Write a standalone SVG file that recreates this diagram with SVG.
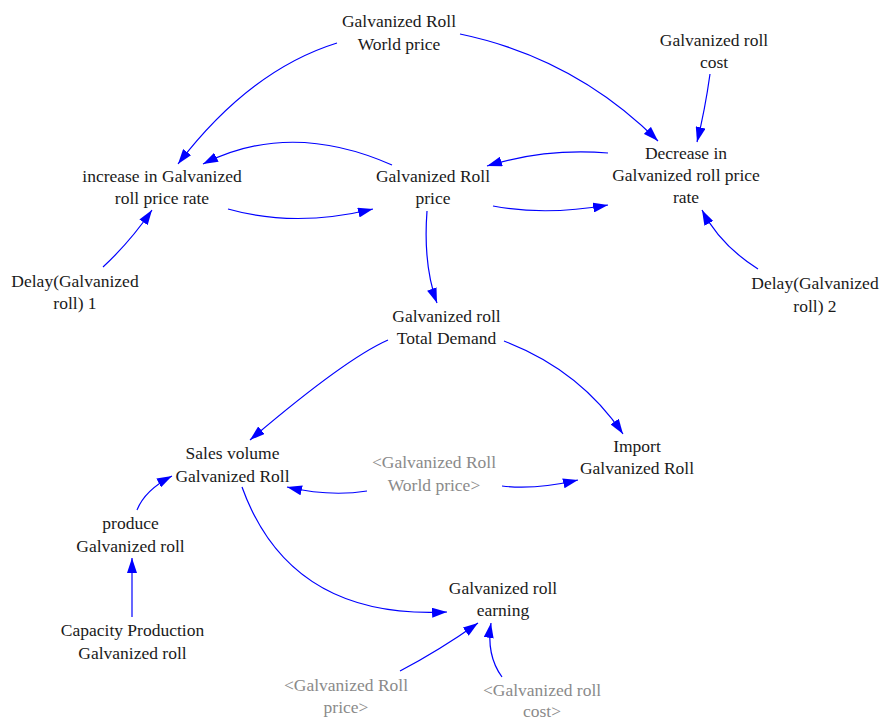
<svg xmlns="http://www.w3.org/2000/svg" width="880" height="719" viewBox="0 0 880 719">
<defs>
<style>
text{font-family:"Liberation Serif","Times New Roman",serif;font-size:17.5px;fill:#1a1a1a;text-anchor:middle}
text.sh{fill:#8a8a8a}
.c path{fill:none;stroke:#0000ff;stroke-width:1.2;marker-end:url(#ah)}
</style>
<marker id="ah" markerUnits="userSpaceOnUse" markerWidth="15" markerHeight="10" refX="15" refY="5" orient="auto" viewBox="0 0 15 10"><path d="M0,0 L15,5 L0,10 z" fill="#0000ff"/></marker>
</defs>
<rect width="880" height="719" fill="#ffffff"/>
<g class="c" id="connectors">
<path d="M337,43 Q250,70 178,164"/>
<path d="M392,165 Q290,120 203,164"/>
<path d="M228,209 Q295,228 373,209"/>
<path d="M103,267 Q130,242 152,210"/>
<path d="M460,34 Q575,58 658,141"/>
<path d="M710,74 Q705,110 697,142"/>
<path d="M608,153 Q545,148 487,166"/>
<path d="M493,206 Q545,216 608,205"/>
<path d="M758,269 Q720,245 702,210"/>
<path d="M427,211 Q423,265 437,303"/>
<path d="M388,340 Q345,359 250,440"/>
<path d="M504,341 Q580,370 623,434"/>
<path d="M367,491 Q330,497 287,487"/>
<path d="M502,486 Q535,490 578,480"/>
<path d="M137,510 Q145,490 172,476"/>
<path d="M132,617 L132,558"/>
<path d="M242,487 Q290,620 447,612"/>
<path d="M400,671 Q440,650 478,623"/>
<path d="M502,677 Q486,655 491,623"/>
</g>
<g id="world_price"><text x="399" y="27"><tspan x="399">Galvanized Roll</tspan><tspan x="399" dy="22.5">World price</tspan></text></g>
<g id="roll_cost"><text x="714" y="45.5"><tspan x="714">Galvanized roll</tspan><tspan x="714" dy="22.5">cost</tspan></text></g>
<g id="increase_rate"><text x="162" y="181.5"><tspan x="162">increase in Galvanized</tspan><tspan x="162" dy="22.5">roll price rate</tspan></text></g>
<g id="roll_price"><text x="433" y="181.5"><tspan x="433">Galvanized Roll</tspan><tspan x="433" dy="22.5">price</tspan></text></g>
<g id="decrease_rate"><text x="686" y="159"><tspan x="686">Decrease in</tspan><tspan x="686" dy="22">Galvanized roll price</tspan><tspan x="686" dy="22">rate</tspan></text></g>
<g id="delay1"><text x="75" y="286.5"><tspan x="75">Delay(Galvanized</tspan><tspan x="75" dy="22.5">roll) 1</tspan></text></g>
<g id="delay2"><text x="815" y="289"><tspan x="815">Delay(Galvanized</tspan><tspan x="815" dy="22.5">roll) 2</tspan></text></g>
<g id="total_demand"><text x="446.5" y="321.5"><tspan x="446.5">Galvanized roll</tspan><tspan x="446.5" dy="22.5">Total Demand</tspan></text></g>
<g id="sales_volume"><text x="232.5" y="459"><tspan x="232.5">Sales volume</tspan><tspan x="232.5" dy="22.5">Galvanized Roll</tspan></text></g>
<g id="world_price_shadow1"><text class="sh" x="434" y="468"><tspan x="434">&lt;Galvanized Roll</tspan><tspan x="434" dy="22.5">World price&gt;</tspan></text></g>
<g id="import"><text x="637" y="451.5"><tspan x="637">Import</tspan><tspan x="637" dy="22.5">Galvanized Roll</tspan></text></g>
<g id="produce"><text x="130.5" y="529"><tspan x="130.5">produce</tspan><tspan x="130.5" dy="22.5">Galvanized roll</tspan></text></g>
<g id="capacity"><text x="132.5" y="636"><tspan x="132.5">Capacity Production</tspan><tspan x="132.5" dy="22.5">Galvanized roll</tspan></text></g>
<g id="earning"><text x="503" y="593.5"><tspan x="503">Galvanized roll</tspan><tspan x="503" dy="22.5">earning</tspan></text></g>
<g id="price_shadow"><text class="sh" x="346" y="690.5"><tspan x="346">&lt;Galvanized Roll</tspan><tspan x="346" dy="22.5">price&gt;</tspan></text></g>
<g id="cost_shadow"><text class="sh" x="542" y="695.5"><tspan x="542">&lt;Galvanized roll</tspan><tspan x="542" dy="21">cost&gt;</tspan></text></g>
</svg>
